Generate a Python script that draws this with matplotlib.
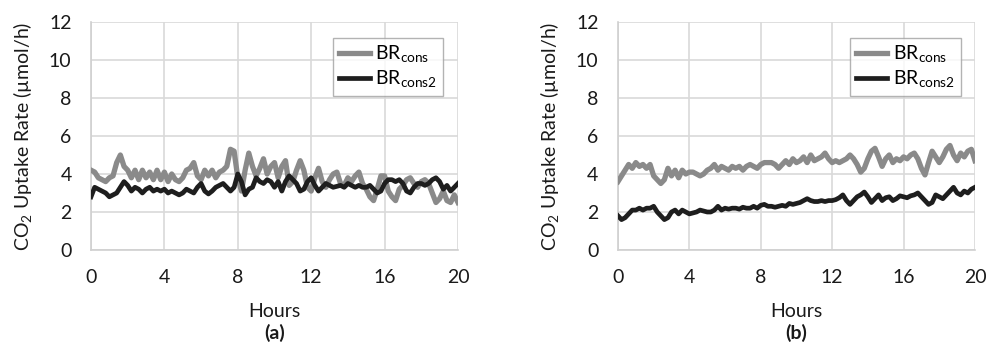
# CO2 uptake rate, two panels
import numpy as np
import matplotlib as mpl
mpl.use('Agg')
import matplotlib.pyplot as plt

plt.rcParams['font.family'] = ['Lato', 'DejaVu Sans']
plt.rcParams['mathtext.fontset'] = 'custom'
plt.rcParams['mathtext.rm'] = 'Lato'

# sampling every 0.2 h
hours = np.linspace(0, 20, 101)

# panel (a)
br_cons_a = [4.2, 4.1, 3.8, 3.7, 3.6, 3.8, 3.9, 4.6, 5.0, 4.4,
             4.2, 3.8, 4.2, 3.7, 4.2, 3.8, 4.1, 3.7, 4.2, 3.7,
             4.1, 3.6, 4.0, 3.7, 3.6, 3.8, 4.2, 4.3, 4.6, 3.9,
             3.7, 4.2, 3.9, 4.2, 3.8, 4.1, 4.2, 4.4, 5.3, 5.2,
             3.8, 3.1, 4.2, 5.1, 4.4, 3.9, 4.3, 4.8, 4.0, 4.4,
             4.6, 3.8, 4.4, 4.7, 3.4, 3.6, 4.2, 4.7, 4.2, 3.3,
             3.1, 3.8, 4.3, 3.6, 3.3, 3.7, 4.0, 4.1, 3.5, 3.4,
             3.8, 3.6, 3.9, 4.1, 3.5, 3.2, 2.8, 2.6, 3.2, 3.9,
             3.9, 3.1, 2.8, 2.6, 3.2, 3.4, 3.7, 3.8, 3.5, 3.3,
             3.6, 3.7, 3.5, 3.0, 2.5, 2.7, 3.1, 2.6, 2.5, 2.9,
             2.5]
br_cons2_a = [2.8, 3.3, 3.2, 3.1, 3.0, 2.8, 2.9, 3.0, 3.3, 3.6,
              3.4, 3.1, 3.3, 3.2, 3.0, 3.2, 3.3, 3.1, 3.2, 3.1,
              3.2, 3.0, 3.1, 3.0, 2.9, 3.0, 3.2, 3.1, 3.0, 3.3,
              3.5, 3.1, 2.95, 3.1, 3.3, 3.4, 3.5, 3.3, 3.1, 3.3,
              4.0, 3.6, 2.9, 3.2, 3.3, 3.8, 3.6, 3.5, 3.7, 3.6,
              3.3, 3.6, 3.1, 3.6, 3.9, 3.7, 3.5, 3.1, 3.2, 3.6,
              3.8, 3.4, 3.1, 3.3, 3.5, 3.4, 3.3, 3.35, 3.4, 3.3,
              3.5, 3.4, 3.3, 3.4, 3.3, 3.3, 3.4, 3.2, 3.0, 3.1,
              3.5, 3.7, 3.7, 3.6, 3.7, 3.5, 3.1, 3.0, 3.3, 3.5,
              3.5, 3.4, 3.5, 3.7, 3.8, 3.6, 3.2, 3.4, 3.1, 3.3,
              3.5]

# panel (b)
br_cons_b = [3.6, 3.9, 4.2, 4.5, 4.3, 4.6, 4.4, 4.5, 4.3, 4.5,
             3.9, 3.7, 3.5, 3.7, 4.3, 3.9, 4.2, 3.8, 4.2, 4.0,
             4.1, 4.1, 4.0, 3.9, 4.0, 4.2, 4.3, 4.5, 4.2, 4.4,
             4.3, 4.2, 4.4, 4.3, 4.4, 4.2, 4.4, 4.5, 4.4, 4.3,
             4.5, 4.6, 4.6, 4.6, 4.5, 4.3, 4.5, 4.7, 4.5, 4.8,
             4.6, 4.7, 4.9, 4.6, 5.0, 4.7, 4.8, 4.9, 5.1, 4.8,
             4.6, 4.7, 4.6, 4.7, 4.8, 5.0, 4.8, 4.5, 4.1, 4.3,
             4.8, 5.2, 5.35, 4.9, 4.4, 4.8, 5.0, 4.6, 4.8, 4.7,
             4.9, 4.8, 5.0, 5.1, 4.8, 4.3, 3.95, 4.6, 5.2, 4.9,
             4.6, 4.9, 5.3, 5.5, 5.0, 4.7, 5.1, 4.9, 5.2, 5.3,
             4.7]
br_cons2_b = [1.8, 1.6, 1.7, 1.9, 2.1, 2.1, 2.2, 2.1, 2.2, 2.2,
              2.3, 2.0, 1.8, 1.6, 1.7, 2.0, 2.1, 1.9, 2.1, 2.0,
              1.9, 1.95, 2.0, 2.1, 2.05, 2.0, 2.0, 2.1, 2.3, 2.1,
              2.2, 2.15, 2.2, 2.2, 2.15, 2.25, 2.2, 2.2, 2.3, 2.2,
              2.35, 2.4, 2.3, 2.3, 2.25, 2.3, 2.35, 2.3, 2.45, 2.4,
              2.45, 2.5, 2.6, 2.7, 2.6, 2.55, 2.55, 2.6, 2.55, 2.6,
              2.6, 2.65, 2.75, 2.9, 2.6, 2.4, 2.6, 2.8, 2.9, 3.05,
              2.8, 2.5, 2.7, 2.9, 2.6, 2.75, 2.8, 2.6, 2.7, 2.85,
              2.8, 2.75, 2.85, 2.9, 3.0, 2.8, 2.6, 2.4, 2.5, 2.9,
              2.8, 2.7, 2.9, 3.1, 3.3, 3.0, 2.9, 3.1, 3.0, 3.2,
              3.3]

x_ticks = [0, 4, 8, 12, 16, 20]
y_ticks = [0, 2, 4, 6, 8, 10, 12]
panel_labels = ['(a)', '(b)']
series = [(br_cons_a, br_cons2_a), (br_cons_b, br_cons2_b)]

fig = plt.figure(figsize=(9.87, 3.49), dpi=100)
ax_pos = [[0.0922, 0.2837, 0.3718, 0.6533],
          [0.6261, 0.2837, 0.3617, 0.6533]]

for i in range(2):
  ax = fig.add_axes(ax_pos[i])
  cons, cons2 = series[i]
  ax.plot(hours, cons, color='#8a8a8a', lw=3.8, solid_joinstyle='round',
          label=r'BR$_{\mathrm{cons}}$', zorder=3)
  ax.plot(hours, cons2, color='#1e1e1e', lw=3.4, solid_joinstyle='round',
          label=r'BR$_{\mathrm{cons2}}$', zorder=4)
  ax.set_xlim(0, 20)
  ax.set_ylim(0, 12)
  ax.set_xticks(x_ticks)
  ax.set_yticks(y_ticks)
  ax.grid(True, color='#d9d9d9', lw=1.2, zorder=0)
  ax.set_axisbelow(True)
  for s in ['top', 'right']:
    ax.spines[s].set_visible(False)
  for s in ['left', 'bottom']:
    ax.spines[s].set_color('#d0d0d0')
    ax.spines[s].set_linewidth(1.2)
  ax.tick_params(length=0, labelsize=14, labelcolor='#1a1a1a')
  ax.tick_params(axis='x', pad=14)
  ax.tick_params(axis='y', pad=14)
  ax.set_xlabel('Hours', fontsize=14, color='#1a1a1a', labelpad=12)
  ax.set_ylabel(r'CO$_2$ Uptake Rate (µmol/h)', fontsize=14, color='#1a1a1a', labelpad=10)
  ax.text(0.5, -0.325, panel_labels[i], transform=ax.transAxes, ha='center', va='top',
          fontsize=14, fontweight='bold', color='#1a1a1a')
  leg = ax.legend(loc='upper right', bbox_to_anchor=(0.96, 0.93), fontsize=14,
                  frameon=True, fancybox=False, handlelength=1.6, handletextpad=0.3,
                  borderpad=0.3, labelspacing=0.2, borderaxespad=0)
  leg.get_frame().set_edgecolor('#a0a0a0')
  leg.get_frame().set_linewidth(1.0)

plt.savefig('out.png', dpi=100)
